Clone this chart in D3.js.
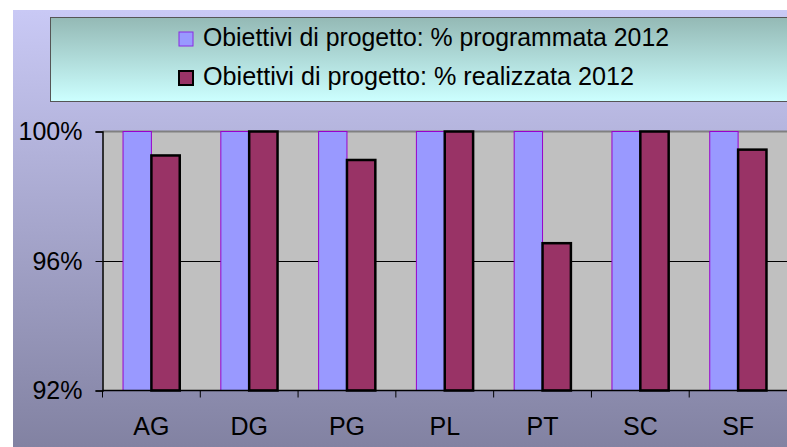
<!DOCTYPE html>
<html>
<head>
<meta charset="utf-8">
<script src="https://cdn.jsdelivr.net/npm/d3@7"></script>
<style>
  body { margin: 0; background: #fff; }
  text { font-family: "Liberation Sans", Arial, sans-serif; fill: #000; }
</style>
</head>
<body>
<svg id="chart" width="787" height="447"></svg>
<script>
var categories = ["AG", "DG", "PG", "PL", "PT", "SC", "SF"];
var programmata = [100, 100, 100, 100, 100, 100, 100];
var realizzata = [99.26, 100, 99.12, 100, 96.55, 100, 99.44];
var seriesNames = ["Obiettivi di progetto: % programmata 2012", "Obiettivi di progetto: % realizzata 2012"];
var yTicks = [92, 96, 100];

var svg = d3.select("#chart"),
    width = +svg.attr("width"),
    height = +svg.attr("height");

var defs = svg.append("defs");
var bg = defs.append("linearGradient").attr("id", "bg").attr("x1", 0).attr("y1", 0).attr("x2", 0).attr("y2", 1);
bg.append("stop").attr("offset", "0%").attr("stop-color", "#c9c9f5");
bg.append("stop").attr("offset", "100%").attr("stop-color", "#8282a2");
var lg = defs.append("linearGradient").attr("id", "lg").attr("x1", 0).attr("y1", 0).attr("x2", 0).attr("y2", 1);
lg.append("stop").attr("offset", "0%").attr("stop-color", "#94b9b5");
lg.append("stop").attr("offset", "100%").attr("stop-color", "#ccffff");

svg.append("rect").attr("x", 13).attr("y", 10).attr("width", width - 13).attr("height", height - 10)
   .attr("fill", "url(#bg)");

// legend
svg.append("rect").attr("x", 50.5).attr("y", 17.5).attr("width", 760).attr("height", 84)
   .attr("fill", "url(#lg)").attr("stroke", "#555").attr("stroke-width", 1);

var colors = ["#9999ff", "#993366"];
var strokes = ["#8a2be2", "#000"];

var leg = svg.selectAll(".leg").data(seriesNames).enter().append("g")
   .attr("class", "leg")
   .attr("transform", function(d, i) { return "translate(179," + (32 + i * 39) + ")"; });
leg.append("rect").attr("width", 14).attr("height", 14)
   .attr("fill", function(d, i) { return colors[i]; })
   .attr("stroke", function(d, i) { return strokes[i]; })
   .attr("stroke-width", function(d, i) { return i ? 2 : 1; });
leg.append("text").attr("x", 24).attr("y", 14)
   .style("font-size", "25px")
   .attr("textLength", function(d, i) { return i ? 431 : 466; })
   .attr("lengthAdjust", "spacingAndGlyphs")
   .text(function(d) { return d; });

// plot
var x0 = 102.5, x1 = 787, yTop = 131.5, yBot = 390.5;

var x = d3.scaleBand().domain(categories).range([x0, x1]).paddingInner(0.42).paddingOuter(0.21);
var xs = d3.scaleBand().domain([0, 1]).range([0, x.bandwidth()]);
var y = d3.scaleLinear().domain([92, 100]).range([yBot, yTop]);

svg.append("rect").attr("x", x0).attr("y", yTop).attr("width", x1 - x0).attr("height", yBot - yTop)
   .attr("fill", "#c0c0c0");

svg.selectAll(".grid").data([96]).enter().append("line")
   .attr("x1", x0).attr("x2", x1)
   .attr("y1", function(d) { return Math.round(y(d)) + 0.5; })
   .attr("y2", function(d) { return Math.round(y(d)) + 0.5; })
   .attr("stroke", "#000");
svg.append("line").attr("x1", x0).attr("x2", x1).attr("y1", yTop).attr("y2", yTop)
   .attr("stroke", "#808080").attr("stroke-width", 2);

var rows = categories.map(function(c, i) { return { cat: c, vals: [programmata[i], realizzata[i]] }; });

var grp = svg.selectAll(".grp").data(rows).enter().append("g")
   .attr("transform", function(d) { return "translate(" + x(d.cat) + ",0)"; });
grp.selectAll("rect").data(function(d) { return d.vals; }).enter().append("rect")
   .attr("x", function(d, i) { return xs(i); })
   .attr("y", function(d) { return y(d); })
   .attr("width", xs.bandwidth())
   .attr("height", function(d) { return yBot - y(d); })
   .attr("fill", function(d, i) { return colors[i]; })
   .attr("stroke", function(d, i) { return i ? "#000" : "#9900cc"; })
   .attr("stroke-width", function(d, i) { return i ? 2.5 : 1; });

// axes
var yAxis = d3.axisLeft(y).tickValues(yTicks).tickSize(7).tickPadding(13)
   .tickFormat(function(d) { return d + "%"; });
var ga = svg.append("g").attr("transform", "translate(" + x0 + ",0)").call(yAxis);
ga.select(".domain").attr("stroke", "#000").attr("stroke-width", 1.5);
ga.selectAll("text").style("font-size", "25px").attr("font-family", null);

var bounds = categories.map(function(c) { return x(c) - x.step() * x.paddingOuter(); });
svg.selectAll(".xt").data(bounds).enter().append("line")
   .attr("x1", function(d) { return d; }).attr("x2", function(d) { return d; })
   .attr("y1", yBot).attr("y2", yBot + 7).attr("stroke", "#000");
svg.append("line").attr("x1", x0).attr("x2", x1).attr("y1", yBot).attr("y2", yBot)
   .attr("stroke", "#000").attr("stroke-width", 1.5);

svg.selectAll(".xl").data(categories).enter().append("text")
   .attr("x", function(d) { return x(d) + x.bandwidth() / 2; })
   .attr("y", 435)
   .attr("text-anchor", "middle")
   .style("font-size", "25px")
   .text(function(d) { return d; });
</script>
</body>
</html>
